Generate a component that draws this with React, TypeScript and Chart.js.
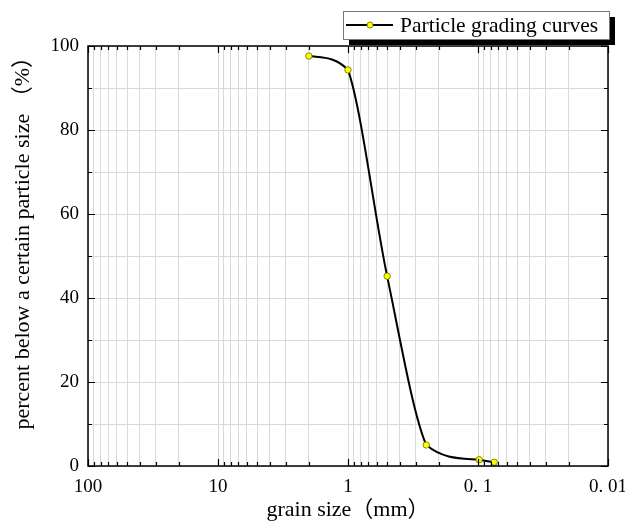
import React, { useEffect, useRef } from 'react';
import { Chart, registerables } from 'chart.js';

Chart.register(...registerables);

// ---- data ----
const grainSizes = [2, 1, 0.5, 0.25, 0.098, 0.075];
const percentPassing = [97.6, 94.3, 45.2, 5.0, 1.5, 0.9];
const seriesLabel = 'Particle grading curves';

const decadeValues = [100, 10, 1, 0.1, 0.01];
const decadeTickLabels = ['100', '10', '1', '0. 1', '0. 01'];
const yTickValues = [0, 10, 20, 30, 40, 50, 60, 70, 80, 90, 100];
const yLabelValues = [0, 20, 40, 60, 80, 100];

const xTitle = 'grain size（mm）';
const yTitle = 'percent below a certain particle size （%）';

const FONT = "'Liberation Serif', 'Noto Sans CJK SC', serif";

const minorMultipliers = [2, 3, 4, 5, 6, 7, 8, 9];
const allXTicks: number[] = (() => {
  const out: number[] = [];
  const sorted = [...decadeValues].sort((a, b) => a - b);
  sorted.forEach((d, i) => {
    out.push(d);
    if (i < sorted.length - 1) minorMultipliers.forEach((m) => out.push(+(d * m).toPrecision(6)));
  });
  return out;
})();

const decadeLabelFor = (v: number): string => {
  const i = decadeValues.findIndex((d) => Math.abs(Math.log10(d) - Math.log10(v)) < 1e-6);
  return i >= 0 ? decadeTickLabels[i] : '';
};

// Smooth curve: per-segment Hermite tangents (average of secants, limited per segment
// with the Fritsch–Carlson rule) applied to the line's own bezier control points.
const smoothPlugin = {
  id: 'segmentSmooth',
  beforeDatasetDraw(chart: any, args: any) {
    const meta = chart.getDatasetMeta(args.index);
    const line = meta.dataset;
    const pts = meta.data;
    if (!line || pts.length < 2) return;
    line.updateControlPoints(chart.chartArea, meta.iScale.axis);
    const n = pts.length;
    const d: number[] = [];
    for (let i = 0; i < n - 1; i++) d.push((pts[i + 1].y - pts[i].y) / (pts[i + 1].x - pts[i].x));
    const m: number[] = [];
    for (let i = 0; i < n; i++) {
      if (i === 0) m.push(d[0]);
      else if (i === n - 1) m.push(d[n - 2]);
      else m.push((d[i - 1] + d[i]) / 2);
    }
    for (let i = 0; i < n - 1; i++) {
      let a = m[i];
      let b = m[i + 1];
      if (d[i] !== 0) {
        const al = a / d[i];
        const be = b / d[i];
        const sq = al * al + be * be;
        if (sq > 9) {
          const tau = 3 / Math.sqrt(sq);
          a = al * tau * d[i];
          b = be * tau * d[i];
        }
      } else {
        a = 0;
        b = 0;
      }
      const p = pts[i];
      const q = pts[i + 1];
      const h = (q.x - p.x) / 3;
      p.cp2x = p.x + h;
      p.cp2y = p.y + a * h;
      q.cp1x = q.x - h;
      q.cp1y = q.y - b * h;
    }
    line._pointsUpdated = true;
    line._path = undefined;
  },
};

const framePlugin = {
  id: 'frameAndLegend',
  afterDraw(chart: any) {
    const { ctx, chartArea, scales } = chart;
    const { left, right, top, bottom } = chartArea;
    const x = scales.x;
    const y = scales.y;
    ctx.save();
    ctx.strokeStyle = '#000';
    ctx.lineWidth = 1.5;
    ctx.strokeRect(left, top, right - left, bottom - top);
    ctx.lineWidth = 1.2;
    ctx.beginPath();
    allXTicks.forEach((v) => {
      const px = Math.round(x.getPixelForValue(v)) + 0.5;
      const len = decadeLabelFor(v) ? 7 : 4;
      ctx.moveTo(px, bottom);
      ctx.lineTo(px, bottom - len);
      ctx.moveTo(px, top);
      ctx.lineTo(px, top + len);
    });
    yTickValues.forEach((v) => {
      const py = Math.round(y.getPixelForValue(v)) + 0.5;
      const len = yLabelValues.includes(v) ? 7 : 4;
      ctx.moveTo(left, py);
      ctx.lineTo(left + len, py);
      ctx.moveTo(right, py);
      ctx.lineTo(right - len, py);
    });
    ctx.stroke();

    // legend box with shadow
    const bx = 343, by = 11, bw = 266, bh = 28;
    ctx.fillStyle = '#000';
    ctx.fillRect(bx + 6, by + 6, bw, bh);
    ctx.fillStyle = '#fff';
    ctx.fillRect(bx, by, bw, bh);
    ctx.strokeStyle = '#777';
    ctx.lineWidth = 1;
    ctx.strokeRect(bx + 0.5, by + 0.5, bw, bh);
    const ly = by + bh / 2;
    ctx.strokeStyle = '#000';
    ctx.lineWidth = 2;
    ctx.beginPath();
    ctx.moveTo(bx + 3, ly);
    ctx.lineTo(bx + 50, ly);
    ctx.stroke();
    ctx.beginPath();
    ctx.arc(bx + 27, ly, 3, 0, Math.PI * 2);
    ctx.fillStyle = '#ffff00';
    ctx.fill();
    ctx.strokeStyle = '#6b6b00';
    ctx.lineWidth = 0.8;
    ctx.stroke();
    ctx.fillStyle = '#000';
    ctx.font = `21.5px ${FONT}`;
    ctx.textBaseline = 'middle';
    ctx.textAlign = 'left';
    ctx.fillText(seriesLabel, bx + 57, ly + 1);
    ctx.restore();
  },
};

export default function App() {
  const ref = useRef<HTMLCanvasElement | null>(null);
  useEffect(() => {
    document.body.style.margin = '0';
    if (!ref.current) return;
    const chart = new Chart(ref.current, {
      type: 'line',
      data: {
        datasets: [
          {
            label: seriesLabel,
            data: grainSizes.map((g, i) => ({ x: g, y: percentPassing[i] })),
            borderColor: '#000',
            borderWidth: 2,
            tension: 0.4,
            pointRadius: 3.2,
            pointBackgroundColor: '#ffff00',
            pointBorderColor: '#6b6b00',
            pointBorderWidth: 0.8,
            fill: false,
          },
        ],
      },
      options: {
        responsive: false,
        animation: false,
        devicePixelRatio: 1,
        layout: { padding: { top: 46, right: 17, left: 0, bottom: 0 } },
        plugins: { legend: { display: false }, tooltip: { enabled: false } },
        scales: {
          x: {
            type: 'logarithmic',
            reverse: true,
            min: 0.01,
            max: 100,
            afterBuildTicks: (s: any) => {
              s.ticks = allXTicks.map((v) => ({ value: v }));
            },
            afterFit: (s: any) => {
              s.height = 57;
            },
            ticks: {
              autoSkip: false,
              maxRotation: 0,
              padding: 10,
              color: '#000',
              font: { family: FONT, size: 19 },
              callback: (v: any) => decadeLabelFor(Number(v)),
            },
            grid: { color: '#d9d9d9', lineWidth: 1, drawTicks: false },
            border: { display: false },
            title: {
              display: true,
              text: xTitle,
              color: '#000',
              font: { family: FONT, size: 22 },
              padding: { top: 0, bottom: 0 },
            },
          },
          y: {
            type: 'linear',
            min: 0,
            max: 100,
            afterBuildTicks: (s: any) => {
              s.ticks = yTickValues.map((v) => ({ value: v }));
            },
            afterFit: (s: any) => {
              s.width = 88;
            },
            ticks: {
              padding: 9,
              color: '#000',
              font: { family: FONT, size: 19 },
              callback: (v: any) => (yLabelValues.includes(Number(v)) ? String(v) : ''),
            },
            grid: { color: '#d9d9d9', lineWidth: 1, drawTicks: false },
            border: { display: false },
            title: {
              display: true,
              text: yTitle,
              align: 'end',
              color: '#000',
              font: { family: FONT, size: 22 },
              padding: { top: 10, bottom: 0 },
            },
          },
        },
      },
      plugins: [smoothPlugin, framePlugin],
    });
    return () => chart.destroy();
  }, []);
  return (
    <div style={{ width: 625, height: 523 }}>
      <canvas ref={ref} width={625} height={523} />
    </div>
  );
}
